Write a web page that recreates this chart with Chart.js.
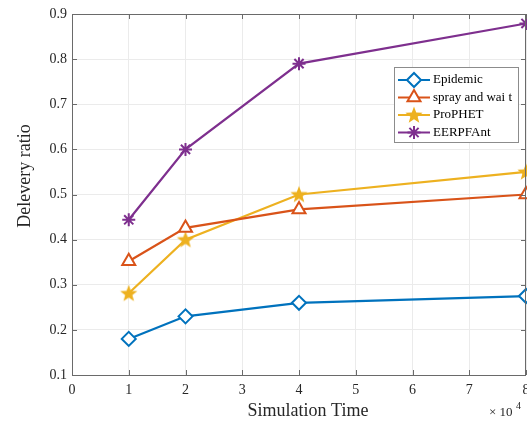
<!DOCTYPE html>
<html>
<head>
<meta charset="utf-8">
<script src="https://cdn.jsdelivr.net/npm/chart.js@4/dist/chart.umd.min.js"></script>
<style>
  html, body { margin: 0; padding: 0; background: #fff; }
  #wrap { width: 527px; height: 426px; }
</style>
</head>
<body>
<div id="wrap"><canvas id="grafico" width="527" height="426"></canvas></div>
<script>
// data
const xValues = [1, 2, 4, 8];
const epidemic = [0.18, 0.23, 0.26, 0.275];
const sprayAndWait = [0.352, 0.426, 0.467, 0.50];
const prophet = [0.281, 0.40, 0.50, 0.55];
const eerpfant = [0.444, 0.60, 0.79, 0.879];
const seriesNames = ['Epidemic', 'spray and wai t', 'ProPHET', 'EERPFAnt'];
const xTicks = [0, 1, 2, 3, 4, 5, 6, 7, 8];
const yTicks = [0.1, 0.2, 0.3, 0.4, 0.5, 0.6, 0.7, 0.8, 0.9];

const FONT = '"Liberation Serif", "Times New Roman", serif';
const AXIS = '#6a6a6a';
const TEXT = '#262626';

// filled five point star for ProPHET
function starImage(color) {
  const c = document.createElement('canvas');
  c.width = 20; c.height = 20;
  const g = c.getContext('2d');
  g.beginPath();
  for (let i = 0; i < 10; i++) {
    const r = i % 2 === 0 ? 9 : 3.8;
    const a = -Math.PI / 2 + i * Math.PI / 5;
    g.lineTo(10 + r * Math.cos(a), 10.5 + r * Math.sin(a));
  }
  g.closePath();
  g.fillStyle = color;
  g.fill();
  return c;
}

function toPoints(ys) {
  return xValues.map((x, i) => ({ x, y: ys[i] }));
}

const datasets = [
  { label: seriesNames[0], data: toPoints(epidemic), borderColor: '#0072BD', backgroundColor: '#fff', pointStyle: 'rectRot', pointRadius: 7, pointBorderWidth: 2 },
  { label: seriesNames[1], data: toPoints(sprayAndWait), borderColor: '#D95319', backgroundColor: '#fff', pointStyle: 'triangle', pointRadius: 7.5, pointBorderWidth: 2 },
  { label: seriesNames[2], data: toPoints(prophet), borderColor: '#EDB120', backgroundColor: '#EDB120', pointStyle: starImage('#EDB120'), pointRadius: 9, pointBorderWidth: 0 },
  { label: seriesNames[3], data: toPoints(eerpfant), borderColor: '#7E2F8E', backgroundColor: '#7E2F8E', pointStyle: 'star', pointRadius: 6.5, pointBorderWidth: 2 }
].map(d => Object.assign(d, { borderWidth: 2.2, tension: 0, fill: false, clip: false, pointHoverRadius: d.pointRadius }));

// box, inward ticks, titles and legend like the MATLAB figure
const decorPlugin = {
  id: 'decor',
  afterDraw(chart) {
    const { ctx, chartArea: a, scales } = chart;
    ctx.save();
    ctx.strokeStyle = AXIS;
    ctx.lineWidth = 1;
    ctx.strokeRect(a.left + 0.5, a.top + 0.5, a.right - a.left - 1, a.bottom - a.top);
    ctx.beginPath();
    xTicks.forEach(t => {
      const px = Math.round(scales.x.getPixelForValue(t)) + 0.5;
      ctx.moveTo(px, a.bottom); ctx.lineTo(px, a.bottom - 5);
      ctx.moveTo(px, a.top); ctx.lineTo(px, a.top + 5);
    });
    yTicks.forEach(t => {
      const py = Math.round(scales.y.getPixelForValue(t)) + 0.5;
      ctx.moveTo(a.left, py); ctx.lineTo(a.left + 5, py);
      ctx.moveTo(a.right, py); ctx.lineTo(a.right - 5, py);
    });
    ctx.stroke();

    // axis titles
    ctx.fillStyle = TEXT;
    ctx.font = '18px ' + FONT;
    ctx.textAlign = 'center';
    ctx.textBaseline = 'middle';
    ctx.fillText('Simulation Time', 308, 411);
    ctx.save();
    ctx.translate(25, 176);
    ctx.rotate(-Math.PI / 2);
    ctx.fillText('Delevery ratio', 0, 0);
    ctx.restore();
    ctx.font = '13px ' + FONT;
    ctx.textAlign = 'left';
    ctx.fillText('\u00d7 10', 489, 413);
    ctx.font = '10px ' + FONT;
    ctx.fillText('4', 516, 406);

    // legend
    const lx = 394, ly = 67, lw = 124, lh = 75;
    ctx.fillStyle = '#fff';
    ctx.fillRect(lx, ly, lw, lh);
    ctx.strokeStyle = '#8c8c8c';
    ctx.strokeRect(lx + 0.5, ly + 0.5, lw, lh);
    ctx.font = '13px ' + FONT;
    ctx.textBaseline = 'middle';
    chart.data.datasets.forEach((d, i) => {
      const y = 80 + i * 17.5;
      ctx.strokeStyle = d.borderColor;
      ctx.lineWidth = 2;
      ctx.beginPath();
      ctx.moveTo(398, y); ctx.lineTo(430, y);
      ctx.stroke();
      ctx.fillStyle = d.backgroundColor;
      Chart.helpers.drawPoint(ctx, {
        pointStyle: d.pointStyle, radius: d.pointRadius, rotation: 0, borderWidth: d.pointBorderWidth
      }, 414, y);
      ctx.fillStyle = '#000';
      ctx.fillText(d.label, 433, y);
    });
    ctx.restore();
  }
};

new Chart(document.getElementById('grafico').getContext('2d'), {
  type: 'line',
  data: { datasets },
  plugins: [decorPlugin],
  options: {
    responsive: false,
    animation: false,
    layout: { autoPadding: false, padding: { top: 14, right: 1, left: 0, bottom: 0 } },
    plugins: { legend: { display: false }, tooltip: { enabled: false } },
    scales: {
      x: {
        type: 'linear', min: 0, max: 8,
        afterFit: s => { s.height = 51; s.paddingLeft = 0; s.paddingRight = 0; },
        afterBuildTicks: s => { s.ticks = xTicks.map(v => ({ value: v })); },
        ticks: { padding: 7, font: { family: FONT, size: 14 }, color: TEXT, callback: v => String(v), maxRotation: 0 },
        grid: { color: '#ebebeb', drawTicks: false },
        border: { display: false }
      },
      y: {
        type: 'linear', min: 0.1, max: 0.9,
        afterFit: s => { s.width = 72; s.paddingTop = 0; s.paddingBottom = 0; },
        afterBuildTicks: s => { s.ticks = yTicks.map(v => ({ value: v })); },
        ticks: { padding: 5, font: { family: FONT, size: 14 }, color: TEXT, callback: v => v.toFixed(1) },
        grid: { color: '#ebebeb', drawTicks: false },
        border: { display: false }
      }
    }
  }
});
</script>
</body>
</html>
